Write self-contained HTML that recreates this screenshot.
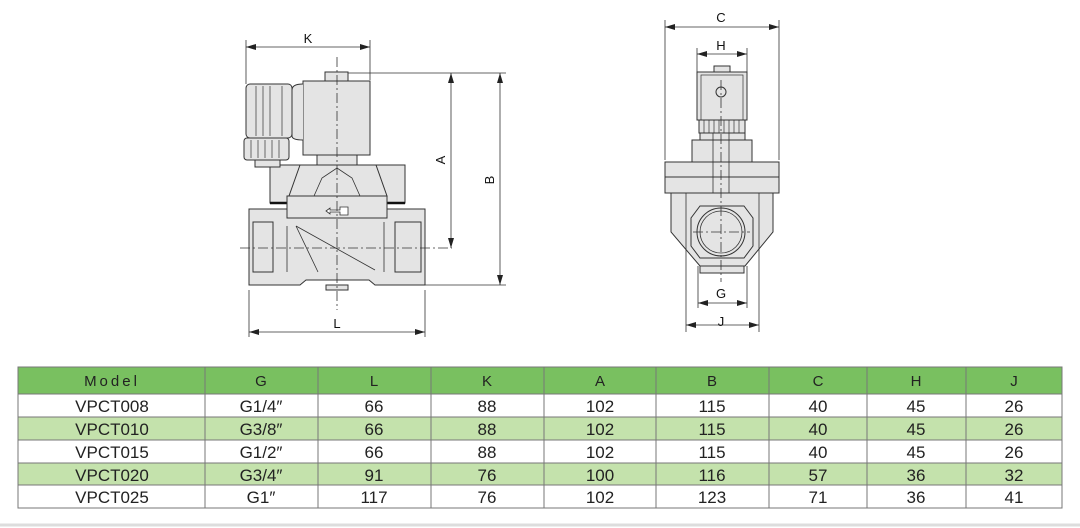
<!DOCTYPE html>
<html><head><meta charset="utf-8"><style>
html,body{margin:0;padding:0;background:#fff;}
svg{display:block;}
text{font-family:"Liberation Sans",sans-serif;}
</style></head><body>
<svg width="1080" height="528" viewBox="0 0 1080 528" xmlns="http://www.w3.org/2000/svg">
<defs>
<marker id="ar" viewBox="0 0 10 6" refX="10" refY="3" markerWidth="10" markerHeight="6" orient="auto-start-reverse" markerUnits="userSpaceOnUse"><path d="M0,0 L10,3 L0,6 z" fill="#222"/></marker>
</defs>
<g stroke="#333" stroke-width="1" fill="#e4e4e4">
<!-- LEFT VIEW -->
<!-- body -->
<path d="M249,209 H425 V285 H375 L369,280 H306 L300,285 H249 Z"/>
<rect x="253" y="222" width="20" height="50" fill="#e4e4e4"/>
<rect x="395" y="222" width="26" height="50" fill="#e4e4e4"/>
<path d="M296,226 L318,272 M296,226 L375,270 M287,226 V272 M384,222 V272" fill="none" stroke-width="0.8"/>
<rect x="326" y="285" width="22" height="5"/>
<!-- bonnet -->
<rect x="270" y="165" width="135" height="38"/>
<path d="M300,165 L289,196 H387 L376,165 Z" fill="#e4e4e4"/>
<path d="M314,196 L322,178 L337,168 L352,178 L360,196" fill="none" stroke-width="0.8"/>
<line x1="270" y1="203" x2="405" y2="203" stroke="#111" stroke-width="2.5"/>
<rect x="287" y="196" width="100" height="22"/>
<path d="M326,211 L330,208 V210 H340 V207 H348 V215 H340 V212 H330 V214 Z" fill="#fff" stroke-width="0.8"/>
<rect x="317" y="155" width="40" height="10"/>
<!-- coil -->
<rect x="303" y="81" width="67" height="74"/>
<rect x="325" y="72" width="23" height="9"/>
<path d="M303,84 Q292,84 292,90 V136 Q292,140 303,140" fill="#e4e4e4"/>
<rect x="246" y="84" width="46" height="54" rx="4"/>
<path d="M256,86 V136 M263,86 V136 M270,86 V136 M282,86 V136" fill="none" stroke-width="0.7"/>
<rect x="244" y="138" width="45" height="22" rx="3"/>
<path d="M251,140 V158 M258,140 V158 M265,140 V158 M272,140 V158 M279,140 V158" fill="none" stroke-width="0.7"/>
<rect x="255" y="160" width="25" height="7"/>

<!-- RIGHT VIEW -->
<path d="M671,193 H773 V232 L745,266 H700 L671,232 Z"/>
<path d="M686,193 V247 M759,193 V247" fill="none" stroke-width="0.8"/>
<path d="M700,206 H744 L753,218 V246 L744,258 H700 L691,246 V218 Z"/>
<circle cx="721" cy="232" r="24"/>
<circle cx="721" cy="232" r="21" fill="none" stroke-width="0.8"/>
<rect x="700" y="266" width="44" height="7"/>
<rect x="665" y="177" width="114" height="16"/>
<rect x="665" y="162" width="114" height="15"/>
<rect x="692" y="140" width="60" height="22"/>
<rect x="700" y="133" width="45" height="7"/>
<rect x="697" y="72" width="50" height="48"/>
<rect x="701" y="75" width="42" height="45" fill="none" stroke-width="0.7"/>
<rect x="714" y="66" width="16" height="6"/>
<rect x="699" y="120" width="46" height="13"/>
<path d="M704,120 V133 M709,120 V133 M714,120 V133 M719,120 V133 M724,120 V133 M729,120 V133 M734,120 V133 M739,120 V133" fill="none" stroke-width="0.7"/>
<circle cx="721" cy="92" r="5" fill="none"/>
<rect x="713" y="133" width="16" height="60" fill="none" stroke-width="0.8"/>
</g>
<!-- center lines -->
<g stroke="#333" stroke-width="0.8" stroke-dasharray="10,3,2,3" fill="none">
<line x1="240" y1="248" x2="452" y2="248"/>
<line x1="337" y1="57" x2="337" y2="310"/>
<line x1="721" y1="80" x2="721" y2="282"/>
<line x1="693" y1="232" x2="750" y2="232"/>
</g>
<!-- dimension lines -->
<g stroke="#333" stroke-width="0.8" fill="none">
<line x1="246" y1="40" x2="246" y2="84"/>
<line x1="370" y1="40" x2="370" y2="80"/>
<line x1="348" y1="73" x2="506" y2="73"/>
<line x1="425" y1="285" x2="506" y2="285"/>
<line x1="249" y1="290" x2="249" y2="337"/>
<line x1="425" y1="290" x2="425" y2="337"/>
<line x1="665" y1="20" x2="665" y2="160"/>
<line x1="779" y1="20" x2="779" y2="160"/>
<line x1="697" y1="48" x2="697" y2="72"/>
<line x1="747" y1="48" x2="747" y2="72"/>
<line x1="698" y1="266" x2="698" y2="308"/>
<line x1="747" y1="266" x2="747" y2="308"/>
<line x1="686" y1="247" x2="686" y2="332"/>
<line x1="759" y1="247" x2="759" y2="332"/>
<line x1="246" y1="47" x2="370" y2="47" marker-start="url(#ar)" marker-end="url(#ar)"/>
<line x1="451" y1="73" x2="451" y2="248" marker-start="url(#ar)" marker-end="url(#ar)"/>
<line x1="500" y1="73" x2="500" y2="285" marker-start="url(#ar)" marker-end="url(#ar)"/>
<line x1="249" y1="332" x2="425" y2="332" marker-start="url(#ar)" marker-end="url(#ar)"/>
<line x1="665" y1="27" x2="779" y2="27" marker-start="url(#ar)" marker-end="url(#ar)"/>
<line x1="697" y1="54" x2="747" y2="54" marker-start="url(#ar)" marker-end="url(#ar)"/>
<line x1="698" y1="303" x2="747" y2="303" marker-start="url(#ar)" marker-end="url(#ar)"/>
<line x1="686" y1="325" x2="759" y2="325" marker-start="url(#ar)" marker-end="url(#ar)"/>
</g>
<g font-size="13" fill="#111" text-anchor="middle">
<text x="308" y="43">K</text>
<text x="337" y="328">L</text>
<text x="445" y="160" transform="rotate(-90 445 160)" dy="0">A</text>
<text x="494" y="180" transform="rotate(-90 494 180)">B</text>
<text x="721" y="22">C</text>
<text x="721" y="50">H</text>
<text x="721" y="298">G</text>
<text x="721" y="326">J</text>
</g>

<!-- TABLE -->
<rect x="18" y="367" width="1044" height="27" fill="#79c060"/>
<rect x="18" y="394" width="1044" height="23" fill="#fff"/>
<rect x="18" y="417" width="1044" height="23" fill="#c4e2ac"/>
<rect x="18" y="440" width="1044" height="23" fill="#fff"/>
<rect x="18" y="463" width="1044" height="22" fill="#c4e2ac"/>
<rect x="18" y="485" width="1044" height="23" fill="#fff"/>
<g stroke="#777" stroke-width="1" fill="none">
<rect x="18" y="367" width="1044" height="141"/>
<path d="M18,394 H1062 M18,417 H1062 M18,440 H1062 M18,463 H1062 M18,485 H1062"/>
<path d="M205,367 V508 M318,367 V508 M431,367 V508 M544,367 V508 M656,367 V508 M769,367 V508 M867,367 V508 M966,367 V508"/>
</g>
<line x1="0" y1="525" x2="1080" y2="525" stroke="#ddd" stroke-width="3"/>
<g font-size="15" fill="#222" text-anchor="middle">
<g font-size="15" font-family="Liberation Sans Narrow, Liberation Sans, sans-serif">
<text x="112" y="386" letter-spacing="3">Model</text>
<text x="261" y="386">G</text><text x="374" y="386">L</text><text x="487" y="386">K</text><text x="600" y="386">A</text><text x="712" y="386">B</text><text x="818" y="386">C</text><text x="916" y="386">H</text><text x="1014" y="386">J</text>
</g>
<g font-size="17">
<text x="112" y="412">VPCT008</text><text x="261" y="412">G1/4″</text><text x="374" y="412">66</text><text x="487" y="412">88</text><text x="600" y="412">102</text><text x="712" y="412">115</text><text x="818" y="412">40</text><text x="916" y="412">45</text><text x="1014" y="412">26</text>
<text x="112" y="435">VPCT010</text><text x="261" y="435">G3/8″</text><text x="374" y="435">66</text><text x="487" y="435">88</text><text x="600" y="435">102</text><text x="712" y="435">115</text><text x="818" y="435">40</text><text x="916" y="435">45</text><text x="1014" y="435">26</text>
<text x="112" y="458">VPCT015</text><text x="261" y="458">G1/2″</text><text x="374" y="458">66</text><text x="487" y="458">88</text><text x="600" y="458">102</text><text x="712" y="458">115</text><text x="818" y="458">40</text><text x="916" y="458">45</text><text x="1014" y="458">26</text>
<text x="112" y="481">VPCT020</text><text x="261" y="481">G3/4″</text><text x="374" y="481">91</text><text x="487" y="481">76</text><text x="600" y="481">100</text><text x="712" y="481">116</text><text x="818" y="481">57</text><text x="916" y="481">36</text><text x="1014" y="481">32</text>
<text x="112" y="503">VPCT025</text><text x="261" y="503">G1″</text><text x="374" y="503">117</text><text x="487" y="503">76</text><text x="600" y="503">102</text><text x="712" y="503">123</text><text x="818" y="503">71</text><text x="916" y="503">36</text><text x="1014" y="503">41</text>
</g>
</g>
</svg>
</body></html>
